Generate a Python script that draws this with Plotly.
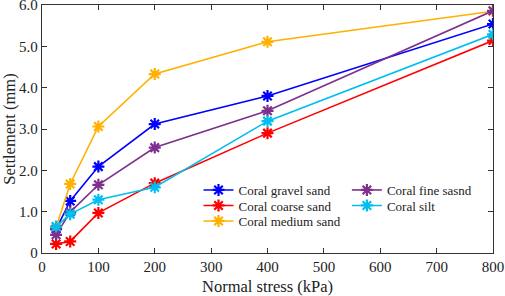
import plotly.graph_objects as go

stress = [25, 50, 100, 200, 400, 800]
gravel_sand = [0.58, 1.26, 2.09, 3.12, 3.80, 5.54]
coarse_sand = [0.22, 0.28, 0.97, 1.69, 2.90, 5.14]
medium_sand = [0.62, 1.67, 3.06, 4.33, 5.11, 5.85]
fine_sand = [0.44, 0.99, 1.65, 2.55, 3.44, 5.86]
silt = [0.64, 0.94, 1.29, 1.59, 3.19, 5.29]

series = [
    ("Coral gravel sand", gravel_sand, "#0000FF"),
    ("Coral coarse sand", coarse_sand, "#FF0000"),
    ("Coral medium sand", medium_sand, "#FFB000"),
    ("Coral fine sasnd", fine_sand, "#7E2F8E"),
    ("Coral silt", silt, "#00BFEF"),
]
# legend slot (column x, row y in paper coordinates) for each series
legend_pos = [(0.347, 0.254), (0.347, 0.1915), (0.347, 0.129),
              (0.676, 0.254), (0.676, 0.1915)]

serif = "Liberation Serif"
fig = go.Figure()
legends = {}
for i, (name, vals, color) in enumerate(series):
    key = "legend" if i == 0 else f"legend{i + 1}"
    fig.add_trace(go.Scatter(
        x=stress, y=vals, name=name, mode="lines+markers",
        line=dict(color=color, width=1.6),
        marker=dict(symbol="asterisk-open", size=10, color=color,
                    line=dict(color=color, width=2.2)),
        legend=key,
    ))
    lx, ly = legend_pos[i]
    legends[key] = dict(x=lx, y=ly, xanchor="left", yanchor="middle",
                        bgcolor="rgba(0,0,0,0)",
                        font=dict(family=serif, size=13, color="#222"),
                        itemwidth=30)

tickfont = dict(family=serif, size=15, color="#222")
titlefont = dict(family=serif, size=16.5, color="#222")
axis_common = dict(showline=True, linecolor="#333", linewidth=1.2, mirror="ticks",
                   ticks="inside", ticklen=5, tickcolor="#333", showgrid=False,
                   zeroline=False, tickfont=tickfont, ticklabeloverflow="allow",
                   automargin=False)

fig.update_layout(
    template="none",
    width=505, height=296,
    margin=dict(l=42, r=12, t=5, b=43),
    paper_bgcolor="white", plot_bgcolor="white",
    font=tickfont,
    xaxis=dict(range=[0, 800], dtick=100,
               title=dict(text="Normal stress (kPa)", font=titlefont),
               **axis_common),
    yaxis=dict(range=[0, 6], tickvals=[0, 1, 2, 3, 4, 5, 6],
               ticktext=["0", "1.0", "2.0", "3.0", "4.0", "5.0", "6.0"],
               title=dict(text="Settlement (mm)", font=titlefont),
               **axis_common),
    showlegend=True,
    **legends,
)

fig.write_html("out.html",
               config={"staticPlot": True, "displayModeBar": False},
               post_script="document.body.style.margin='0';document.body.style.overflow='hidden';")
